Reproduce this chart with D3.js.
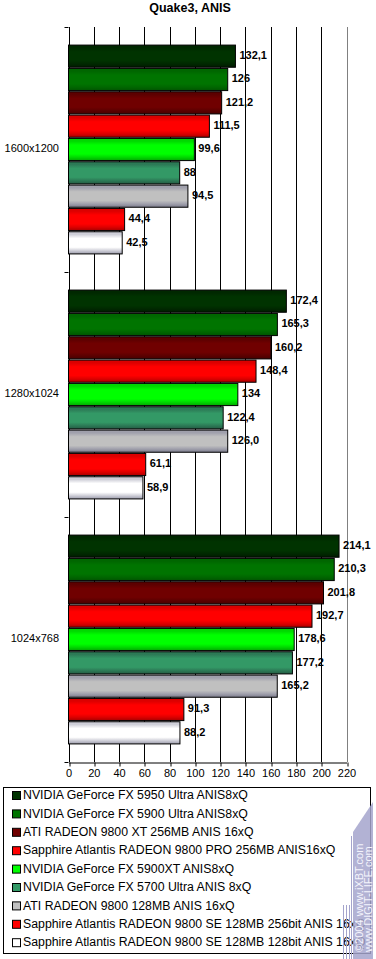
<!DOCTYPE html>
<html>
<head>
<meta charset="utf-8">
<script src="https://cdn.jsdelivr.net/npm/d3@7"></script>
<style>
  body { margin: 0; background: #fff; }
  svg { display: block; font-family: "Liberation Sans", Arial, sans-serif; }
</style>
</head>
<body>
<div id="chart"></div>
<script>
// data
const resolutions = ["1600x1200", "1280x1024", "1024x768"];
const cards = [
  "NVIDIA GeForce FX 5950 Ultra ANIS8xQ",
  "NVIDIA GeForce FX 5900 Ultra ANIS8xQ",
  "ATI RADEON 9800 XT 256MB ANIS 16xQ",
  "Sapphire Atlantis RADEON 9800 PRO 256MB ANIS16xQ",
  "NVIDIA GeForce FX 5900XT ANIS8xQ",
  "NVIDIA GeForce FX 5700 Ultra ANIS 8xQ",
  "ATI RADEON 9800 128MB ANIS 16xQ",
  "Sapphire Atlantis RADEON 9800 SE 128MB 256bit ANIS 16xQ",
  "Sapphire Atlantis RADEON 9800 SE 128MB 128bit ANIS 16xQ"
];
// one array per resolution, in card order
const fps1600 = [132.1, 126, 121.2, 111.5, 99.6, 88, 94.5, 44.4, 42.5];
const fps1280 = [172.4, 165.3, 160.2, 148.4, 134, 122.4, 126.0, 61.1, 58.9];
const fps1024 = [214.1, 210.3, 201.8, 192.7, 178.6, 177.2, 165.2, 91.3, 88.2];
const labels1600 = ["132,1", "126", "121,2", "111,5", "99,6", "88", "94,5", "44,4", "42,5"];
const labels1280 = ["172,4", "165,3", "160,2", "148,4", "134", "122,4", "126,0", "61,1", "58,9"];
const labels1024 = ["214,1", "210,3", "201,8", "192,7", "178,6", "177,2", "165,2", "91,3", "88,2"];
const xTicks = [0, 20, 40, 60, 80, 100, 120, 140, 160, 180, 200, 220];

// bar shading: [edge, between, centre]
const shades = [
  ["#001a00", "#002800", "#003300"],
  ["#005400", "#006600", "#007400"],
  ["#480000", "#5c0000", "#700000"],
  ["#a80000", "#dc0000", "#ff0000"],
  ["#00a800", "#00d800", "#00ff00"],
  ["#245c44", "#2c7a56", "#339966"],
  ["#7c7c8c", "#a0a0ac", "#c0c0c0"],
  ["#a80000", "#dc0000", "#ff0000"],
  ["#9c9cac", "#cfcfd8", "#ffffff"]
];

const rows = [fps1600, fps1280, fps1024];
const rowLabels = [labels1600, labels1280, labels1024];

const width = 376, height = 959;
const margin = {top: 27, left: 68.5, right: 29.5, bottom: 197};
const plotBottom = height - margin.bottom;

const svg = d3.select("#chart").append("svg")
    .attr("width", width)
    .attr("height", height);

const defs = svg.append("defs");
shades.forEach((s, i) => {
  const g = defs.append("linearGradient")
      .attr("id", "shade" + i)
      .attr("x1", 0).attr("y1", 0).attr("x2", 0).attr("y2", 1);
  [[0, s[1]], [0.12, s[1]], [0.3, s[2]], [0.7, s[2]], [0.85, s[1]], [1, s[0]]]
    .forEach(([o, c]) => g.append("stop").attr("offset", o).attr("stop-color", c));
});

const x = d3.scaleLinear()
    .domain([0, 220])
    .range([margin.left, width - margin.right]);

const y = d3.scaleBand()
    .domain(resolutions)
    .range([margin.top, plotBottom]);

const yInner = d3.scaleBand()
    .domain(d3.range(cards.length))
    .range([0, y.bandwidth()])
    .paddingInner(0.05)
    .paddingOuter(0.775);

// title
svg.append("text")
    .attr("x", 190)
    .attr("y", 9)
    .attr("text-anchor", "middle")
    .attr("dominant-baseline", "middle")
    .attr("font-size", "12.5px")
    .attr("font-weight", "bold")
    .text("Quake3, ANIS");

// grid lines
svg.append("g")
  .selectAll("line")
  .data(xTicks)
  .join("line")
    .attr("x1", d => Math.round(x(d)) + 0.5)
    .attr("x2", d => Math.round(x(d)) + 0.5)
    .attr("y1", margin.top)
    .attr("y2", plotBottom)
    .attr("stroke", d => d === 220 ? "#808080" : "#000");

// x axis
svg.append("g")
    .attr("transform", `translate(0, ${plotBottom + 0.5})`)
    .call(d3.axisBottom(x).tickValues(xTicks).tickSize(4).tickPadding(3).tickSizeOuter(0))
    .call(g => g.selectAll(".tick line").attr("transform", d => `translate(${Math.round(x(d)) + 0.5 - x(d)},0)`))
    .call(g => g.selectAll("text").attr("font-size", "11px").attr("fill", "#000")
        .attr("font-family", "Liberation Sans, Arial, sans-serif"));

// y axis with ticks on group boundaries
const bounds = [margin.top, ...resolutions.map(r => y(r) + y.bandwidth())];
svg.append("g")
  .selectAll("line")
  .data(bounds)
  .join("line")
    .attr("x1", margin.left - 4)
    .attr("x2", margin.left)
    .attr("y1", d => Math.round(d) + 0.5)
    .attr("y2", d => Math.round(d) + 0.5)
    .attr("stroke", "#000");

svg.append("g")
  .selectAll("text")
  .data(resolutions)
  .join("text")
    .attr("x", 59)
    .attr("y", d => y(d) + y.bandwidth() / 2)
    .attr("text-anchor", "end")
    .attr("dominant-baseline", "middle")
    .attr("font-size", "11px")
    .text(d => d);

// bars
const groups = svg.append("g")
  .selectAll("g")
  .data(resolutions)
  .join("g")
    .attr("transform", d => `translate(0, ${y(d)})`);

groups.selectAll("rect")
  .data((d, i) => rows[i].map((v, j) => ({v, j, label: rowLabels[i][j]})))
  .join("rect")
    .attr("x", x(0))
    .attr("y", d => yInner(d.j))
    .attr("width", d => x(d.v) - x(0))
    .attr("height", yInner.bandwidth())
    .attr("fill", d => `url(#shade${d.j})`)
    .attr("stroke", "#000")
    .attr("stroke-width", 1);

groups.selectAll("text")
  .data((d, i) => rows[i].map((v, j) => ({v, j, label: rowLabels[i][j]})))
  .join("text")
    .attr("x", d => x(d.v) + 4)
    .attr("y", d => yInner(d.j) + yInner.bandwidth() / 2)
    .attr("dominant-baseline", "middle")
    .attr("font-size", "11px")
    .attr("font-weight", "bold")
    .text(d => d.label);

// legend
const legend = svg.append("g");
legend.append("rect")
    .attr("x", 3.5).attr("y", 787.5)
    .attr("width", 367).attr("height", 166)
    .attr("fill", "#fff").attr("stroke", "#000");

const items = legend.selectAll("g")
  .data(cards)
  .join("g")
    .attr("transform", (d, i) => `translate(0, ${796 + i * 18.4})`);

items.append("rect")
    .attr("x", 12.5).attr("y", -4.5)
    .attr("width", 8).attr("height", 8)
    .attr("fill", (d, i) => shades[i][2])
    .attr("stroke", "#000");

items.append("text")
    .attr("x", 23)
    .attr("dominant-baseline", "middle")
    .attr("font-size", "12.3px")
    .text(d => d);

// watermark
const wm = svg.append("g");
wm.append("path")
    .attr("d", "M353,832 L373,802 L373,959 L353,959 Z")
    .attr("fill", "#a4a4cc")
    .attr("opacity", 0.85);
[343, 346, 349, 351].forEach(px => wm.append("line")
    .attr("x1", px + 0.5).attr("x2", px + 0.5)
    .attr("y1", px === 351 ? 836 : 905).attr("y2", 959)
    .attr("stroke", "#a4a4cc"));
wm.append("text")
    .attr("transform", "translate(363, 952) rotate(-90)")
    .attr("font-size", "11px")
    .attr("fill", "#f4f4fc")
    .text("©2004 www.iXBT.com");
wm.append("text")
    .attr("transform", "translate(372, 952) rotate(-90)")
    .attr("font-size", "11px")
    .attr("fill", "#f4f4fc")
    .text("www.DIGIT-LIFE.com");
</script>
</body>
</html>
